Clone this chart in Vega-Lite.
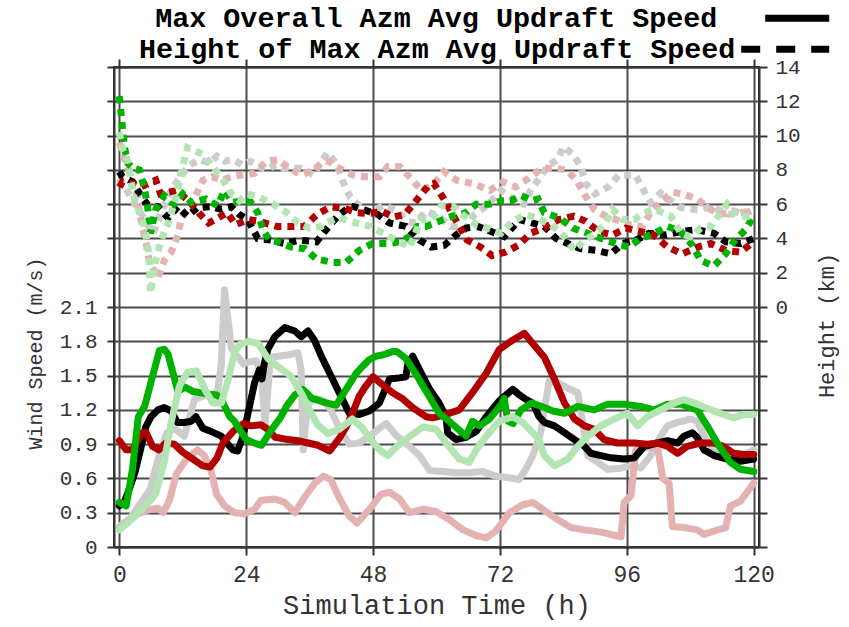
{
  "$schema": "https://vega.github.io/schema/vega-lite/v6.json",
  "width": 645,
  "height": 480,
  "autosize": {"type": "none"},
  "padding": {"left": 114, "top": 67, "right": 90, "bottom": 80},
  "background": "white",
  "config": {
    "view": {"stroke": "#333333", "strokeWidth": 2},
    "font": "Liberation Mono",
    "axis": {
      "labelFont": "Liberation Mono",
      "titleFont": "Liberation Mono",
      "labelColor": "#333333",
      "titleColor": "#333333",
      "titleFontWeight": "normal",
      "domainColor": "#333333",
      "domainWidth": 2,
      "tickColor": "#333333",
      "tickWidth": 2,
      "gridColor": "#4d4d4d",
      "gridWidth": 2,
      "gridOpacity": 1
    }
  },
  "datasets": {
    "speed": [
      {"run":"r1","hour":0,"speed":0.18},{"run":"r1","hour":2,"speed":0.25},{"run":"r1","hour":4,"speed":0.38},{"run":"r1","hour":5.8,"speed":0.5},{"run":"r1","hour":7.5,"speed":0.8},{"run":"r1","hour":9,"speed":1.0},{"run":"r1","hour":10.4,"speed":1.04},{"run":"r1","hour":12.3,"speed":0.97},{"run":"r1","hour":13.2,"speed":1.12},{"run":"r1","hour":14.2,"speed":1.29},{"run":"r1","hour":16.4,"speed":1.33},{"run":"r1","hour":18.5,"speed":1.34},{"run":"r1","hour":19.3,"speed":1.6},{"run":"r1","hour":19.9,"speed":2.25},{"run":"r1","hour":21.2,"speed":1.74},{"run":"r1","hour":22.5,"speed":1.66},{"run":"r1","hour":23.5,"speed":1.6},{"run":"r1","hour":24.5,"speed":1.62},{"run":"r1","hour":25.9,"speed":1.63},{"run":"r1","hour":26.8,"speed":1.52},{"run":"r1","hour":27.6,"speed":1.08},{"run":"r1","hour":28.6,"speed":1.66},{"run":"r1","hour":31.9,"speed":1.68},{"run":"r1","hour":33.8,"speed":1.7},{"run":"r1","hour":34.4,"speed":1.55},{"run":"r1","hour":34.8,"speed":0.85},{"run":"r1","hour":35.6,"speed":1.25},{"run":"r1","hour":37,"speed":1.3},{"run":"r1","hour":38.6,"speed":1.28},{"run":"r1","hour":40,"speed":1.2},{"run":"r1","hour":41.6,"speed":1.04},{"run":"r1","hour":43.5,"speed":0.9},{"run":"r1","hour":45.4,"speed":0.91},{"run":"r1","hour":47.3,"speed":0.97},{"run":"r1","hour":49.2,"speed":1.04},{"run":"r1","hour":50.5,"speed":1.08},{"run":"r1","hour":52.3,"speed":0.98},{"run":"r1","hour":54.9,"speed":0.88},{"run":"r1","hour":56.8,"speed":0.8},{"run":"r1","hour":58.7,"speed":0.67},{"run":"r1","hour":61.2,"speed":0.66},{"run":"r1","hour":63.7,"speed":0.65},{"run":"r1","hour":66.2,"speed":0.65},{"run":"r1","hour":68.7,"speed":0.66},{"run":"r1","hour":71.2,"speed":0.62},{"run":"r1","hour":73.1,"speed":0.61},{"run":"r1","hour":75.6,"speed":0.59},{"run":"r1","hour":76.9,"speed":0.68},{"run":"r1","hour":78.2,"speed":0.8},{"run":"r1","hour":79.7,"speed":1.0},{"run":"r1","hour":81.3,"speed":1.45},{"run":"r1","hour":82.9,"speed":1.44},{"run":"r1","hour":84.8,"speed":1.39},{"run":"r1","hour":86.7,"speed":1.35},{"run":"r1","hour":87.3,"speed":1.2},{"run":"r1","hour":88,"speed":0.97},{"run":"r1","hour":88.6,"speed":0.8},{"run":"r1","hour":90.5,"speed":0.74},{"run":"r1","hour":92.4,"speed":0.68},{"run":"r1","hour":94.9,"speed":0.69},{"run":"r1","hour":96.8,"speed":0.71},{"run":"r1","hour":98.6,"speed":0.69},{"run":"r1","hour":100.5,"speed":0.8},{"run":"r1","hour":102.4,"speed":0.97},{"run":"r1","hour":103.7,"speed":1.06},{"run":"r1","hour":105.6,"speed":1.09},{"run":"r1","hour":108.1,"speed":1.12},{"run":"r1","hour":109.3,"speed":1.1},{"run":"r1","hour":110.6,"speed":0.97},{"run":"r1","hour":111.9,"speed":0.88},{"run":"r1","hour":113.7,"speed":0.82},{"run":"r1","hour":116.2,"speed":0.78},{"run":"r1","hour":118.7,"speed":0.82},{"run":"r1","hour":120,"speed":0.85},
      {"run":"r2","hour":0,"speed":0.16},{"run":"r2","hour":1.6,"speed":0.22},{"run":"r2","hour":3.5,"speed":0.29},{"run":"r2","hour":5.2,"speed":0.32},{"run":"r2","hour":7.3,"speed":0.34},{"run":"r2","hour":8.3,"speed":0.3},{"run":"r2","hour":9.5,"speed":0.41},{"run":"r2","hour":10.8,"speed":0.64},{"run":"r2","hour":12.7,"speed":0.77},{"run":"r2","hour":14.8,"speed":0.85},{"run":"r2","hour":16.1,"speed":0.8},{"run":"r2","hour":17.4,"speed":0.66},{"run":"r2","hour":18.4,"speed":0.46},{"run":"r2","hour":19.9,"speed":0.36},{"run":"r2","hour":21.8,"speed":0.3},{"run":"r2","hour":23.7,"speed":0.29},{"run":"r2","hour":25.6,"speed":0.33},{"run":"r2","hour":26.8,"speed":0.41},{"run":"r2","hour":29.4,"speed":0.42},{"run":"r2","hour":31.3,"speed":0.39},{"run":"r2","hour":33.2,"speed":0.3},{"run":"r2","hour":35.1,"speed":0.44},{"run":"r2","hour":37,"speed":0.56},{"run":"r2","hour":38.6,"speed":0.62},{"run":"r2","hour":40,"speed":0.59},{"run":"r2","hour":41.6,"speed":0.43},{"run":"r2","hour":43.5,"speed":0.27},{"run":"r2","hour":45,"speed":0.21},{"run":"r2","hour":47.3,"speed":0.33},{"run":"r2","hour":49.5,"speed":0.46},{"run":"r2","hour":51.1,"speed":0.48},{"run":"r2","hour":53,"speed":0.42},{"run":"r2","hour":54.9,"speed":0.3},{"run":"r2","hour":57.4,"speed":0.33},{"run":"r2","hour":59.9,"speed":0.31},{"run":"r2","hour":62.4,"speed":0.24},{"run":"r2","hour":65,"speed":0.15},{"run":"r2","hour":67.5,"speed":0.1},{"run":"r2","hour":69.4,"speed":0.08},{"run":"r2","hour":71.2,"speed":0.14},{"run":"r2","hour":73.8,"speed":0.3},{"run":"r2","hour":76.3,"speed":0.37},{"run":"r2","hour":78.2,"speed":0.39},{"run":"r2","hour":80.4,"speed":0.32},{"run":"r2","hour":82.9,"speed":0.24},{"run":"r2","hour":85.4,"speed":0.17},{"run":"r2","hour":88,"speed":0.15},{"run":"r2","hour":91.1,"speed":0.13},{"run":"r2","hour":94.9,"speed":0.09},{"run":"r2","hour":95.5,"speed":0.39},{"run":"r2","hour":96.8,"speed":0.45},{"run":"r2","hour":97.7,"speed":0.85},{"run":"r2","hour":99.3,"speed":0.87},{"run":"r2","hour":101.8,"speed":0.88},{"run":"r2","hour":102.8,"speed":0.6},{"run":"r2","hour":104,"speed":0.56},{"run":"r2","hour":104.6,"speed":0.18},{"run":"r2","hour":106.8,"speed":0.17},{"run":"r2","hour":109.3,"speed":0.15},{"run":"r2","hour":110.6,"speed":0.11},{"run":"r2","hour":112.5,"speed":0.14},{"run":"r2","hour":114.7,"speed":0.17},{"run":"r2","hour":115.6,"speed":0.36},{"run":"r2","hour":117.5,"speed":0.4},{"run":"r2","hour":120,"speed":0.56},
      {"run":"r3","hour":0,"speed":0.36},{"run":"r3","hour":1,"speed":0.4},{"run":"r3","hour":2,"speed":0.52},{"run":"r3","hour":3,"speed":0.66},{"run":"r3","hour":4,"speed":0.85},{"run":"r3","hour":5,"speed":1.05},{"run":"r3","hour":6,"speed":1.14},{"run":"r3","hour":7.3,"speed":1.2},{"run":"r3","hour":8.5,"speed":1.22},{"run":"r3","hour":9.8,"speed":1.19},{"run":"r3","hour":11,"speed":1.09},{"run":"r3","hour":12.3,"speed":1.09},{"run":"r3","hour":13.6,"speed":1.1},{"run":"r3","hour":14.5,"speed":1.14},{"run":"r3","hour":15.8,"speed":1.04},{"run":"r3","hour":17.4,"speed":1.01},{"run":"r3","hour":19.3,"speed":0.97},{"run":"r3","hour":20.5,"speed":0.9},{"run":"r3","hour":21.5,"speed":0.85},{"run":"r3","hour":22.4,"speed":0.84},{"run":"r3","hour":23.4,"speed":0.97},{"run":"r3","hour":24.3,"speed":1.16},{"run":"r3","hour":25.6,"speed":1.44},{"run":"r3","hour":26.5,"speed":1.55},{"run":"r3","hour":27,"speed":1.47},{"run":"r3","hour":27.4,"speed":1.6},{"run":"r3","hour":28.1,"speed":1.73},{"run":"r3","hour":29.4,"speed":1.84},{"run":"r3","hour":31.3,"speed":1.92},{"run":"r3","hour":33.2,"speed":1.89},{"run":"r3","hour":34.4,"speed":1.84},{"run":"r3","hour":35.7,"speed":1.89},{"run":"r3","hour":36.9,"speed":1.81},{"run":"r3","hour":38.2,"speed":1.67},{"run":"r3","hour":39.8,"speed":1.52},{"run":"r3","hour":41.6,"speed":1.35},{"run":"r3","hour":43.5,"speed":1.17},{"run":"r3","hour":45.4,"speed":1.16},{"run":"r3","hour":47.3,"speed":1.19},{"run":"r3","hour":49.2,"speed":1.26},{"run":"r3","hour":51.1,"speed":1.47},{"run":"r3","hour":53,"speed":1.48},{"run":"r3","hour":54.2,"speed":1.49},{"run":"r3","hour":54.6,"speed":1.61},{"run":"r3","hour":55.5,"speed":1.67},{"run":"r3","hour":56.8,"speed":1.55},{"run":"r3","hour":58.7,"speed":1.38},{"run":"r3","hour":60.5,"speed":1.26},{"run":"r3","hour":61.8,"speed":1.14},{"run":"r3","hour":62.1,"speed":1.0},{"run":"r3","hour":63.7,"speed":0.94},{"run":"r3","hour":65.6,"speed":0.96},{"run":"r3","hour":67.5,"speed":1.01},{"run":"r3","hour":69.4,"speed":1.14},{"run":"r3","hour":71.9,"speed":1.28},{"run":"r3","hour":74.4,"speed":1.38},{"run":"r3","hour":75.7,"speed":1.33},{"run":"r3","hour":77,"speed":1.29},{"run":"r3","hour":78.2,"speed":1.26},{"run":"r3","hour":79.4,"speed":1.14},{"run":"r3","hour":80.4,"speed":1.09},{"run":"r3","hour":82.3,"speed":1.06},{"run":"r3","hour":84.2,"speed":1.0},{"run":"r3","hour":86.1,"speed":0.94},{"run":"r3","hour":88,"speed":0.88},{"run":"r3","hour":89.2,"speed":0.82},{"run":"r3","hour":91.1,"speed":0.8},{"run":"r3","hour":93,"speed":0.78},{"run":"r3","hour":95.5,"speed":0.77},{"run":"r3","hour":97.4,"speed":0.78},{"run":"r3","hour":99.3,"speed":0.88},{"run":"r3","hour":101.8,"speed":0.91},{"run":"r3","hour":103.7,"speed":0.93},{"run":"r3","hour":105.6,"speed":0.91},{"run":"r3","hour":106.8,"speed":0.97},{"run":"r3","hour":108.4,"speed":1.0},{"run":"r3","hour":109.3,"speed":0.96},{"run":"r3","hour":110.6,"speed":0.85},{"run":"r3","hour":112.5,"speed":0.8},{"run":"r3","hour":115,"speed":0.77},{"run":"r3","hour":117.5,"speed":0.75},{"run":"r3","hour":120,"speed":0.77},
      {"run":"r4","hour":0,"speed":0.93},{"run":"r4","hour":1.3,"speed":0.85},{"run":"r4","hour":2.5,"speed":0.85},{"run":"r4","hour":4.3,"speed":1.0},{"run":"r4","hour":5.1,"speed":1.0},{"run":"r4","hour":6.3,"speed":0.88},{"run":"r4","hour":7.5,"speed":0.85},{"run":"r4","hour":8.8,"speed":0.91},{"run":"r4","hour":10.4,"speed":0.9},{"run":"r4","hour":12,"speed":0.83},{"run":"r4","hour":13.9,"speed":0.77},{"run":"r4","hour":15.8,"speed":0.71},{"run":"r4","hour":17.2,"speed":0.7},{"run":"r4","hour":18.5,"speed":0.78},{"run":"r4","hour":19.6,"speed":0.91},{"run":"r4","hour":21.5,"speed":1.01},{"run":"r4","hour":23.5,"speed":1.08},{"run":"r4","hour":24.9,"speed":1.06},{"run":"r4","hour":26.8,"speed":1.07},{"run":"r4","hour":28.1,"speed":1.03},{"run":"r4","hour":29.5,"speed":0.96},{"run":"r4","hour":31.9,"speed":0.94},{"run":"r4","hour":33.8,"speed":0.93},{"run":"r4","hour":35.7,"speed":0.91},{"run":"r4","hour":37.6,"speed":0.89},{"run":"r4","hour":39.8,"speed":0.84},{"run":"r4","hour":41.6,"speed":0.95},{"run":"r4","hour":42.9,"speed":1.05},{"run":"r4","hour":44.1,"speed":1.17},{"run":"r4","hour":45.4,"speed":1.32},{"run":"r4","hour":46.5,"speed":1.4},{"run":"r4","hour":48,"speed":1.49},{"run":"r4","hour":49.8,"speed":1.42},{"run":"r4","hour":51.7,"speed":1.35},{"run":"r4","hour":53.5,"speed":1.3},{"run":"r4","hour":55.5,"speed":1.22},{"run":"r4","hour":58,"speed":1.14},{"run":"r4","hour":59.3,"speed":1.13},{"run":"r4","hour":61.8,"speed":1.16},{"run":"r4","hour":64.3,"speed":1.2},{"run":"r4","hour":66.8,"speed":1.35},{"run":"r4","hour":69.4,"speed":1.52},{"run":"r4","hour":71.9,"speed":1.73},{"run":"r4","hour":74.4,"speed":1.81},{"run":"r4","hour":76.6,"speed":1.87},{"run":"r4","hour":78.2,"speed":1.78},{"run":"r4","hour":80.4,"speed":1.66},{"run":"r4","hour":82.3,"speed":1.47},{"run":"r4","hour":84.2,"speed":1.26},{"run":"r4","hour":86.1,"speed":1.12},{"run":"r4","hour":88,"speed":1.06},{"run":"r4","hour":89.8,"speed":1.03},{"run":"r4","hour":91.7,"speed":0.94},{"run":"r4","hour":94.2,"speed":0.91},{"run":"r4","hour":97.4,"speed":0.91},{"run":"r4","hour":99.9,"speed":0.9},{"run":"r4","hour":101.8,"speed":0.91},{"run":"r4","hour":103.7,"speed":0.88},{"run":"r4","hour":105.6,"speed":0.82},{"run":"r4","hour":107.4,"speed":0.88},{"run":"r4","hour":109.9,"speed":0.91},{"run":"r4","hour":112.5,"speed":0.91},{"run":"r4","hour":114.3,"speed":0.88},{"run":"r4","hour":116.2,"speed":0.82},{"run":"r4","hour":118.1,"speed":0.81},{"run":"r4","hour":120,"speed":0.81},
      {"run":"r5","hour":0,"speed":0.39},{"run":"r5","hour":1.3,"speed":0.36},{"run":"r5","hour":2.5,"speed":0.68},{"run":"r5","hour":3.6,"speed":1.14},{"run":"r5","hour":4.8,"speed":1.23},{"run":"r5","hour":6.1,"speed":1.46},{"run":"r5","hour":7.6,"speed":1.72},{"run":"r5","hour":8.5,"speed":1.73},{"run":"r5","hour":9.2,"speed":1.69},{"run":"r5","hour":11.1,"speed":1.36},{"run":"r5","hour":12.4,"speed":1.4},{"run":"r5","hour":14,"speed":1.36},{"run":"r5","hour":16.5,"speed":1.34},{"run":"r5","hour":18.4,"speed":1.33},{"run":"r5","hour":19.3,"speed":1.29},{"run":"r5","hour":20.9,"speed":1.14},{"run":"r5","hour":21.8,"speed":1.1},{"run":"r5","hour":24,"speed":0.94},{"run":"r5","hour":25.5,"speed":0.91},{"run":"r5","hour":26.9,"speed":0.89},{"run":"r5","hour":28.7,"speed":1.02},{"run":"r5","hour":30.6,"speed":1.14},{"run":"r5","hour":31.6,"speed":1.23},{"run":"r5","hour":33.2,"speed":1.33},{"run":"r5","hour":34.7,"speed":1.38},{"run":"r5","hour":36.5,"speed":1.3},{"run":"r5","hour":38.5,"speed":1.27},{"run":"r5","hour":41,"speed":1.24},{"run":"r5","hour":42.9,"speed":1.38},{"run":"r5","hour":44.8,"speed":1.52},{"run":"r5","hour":46,"speed":1.58},{"run":"r5","hour":47.3,"speed":1.64},{"run":"r5","hour":48.6,"speed":1.67},{"run":"r5","hour":49.8,"speed":1.68},{"run":"r5","hour":51.7,"speed":1.71},{"run":"r5","hour":52.5,"speed":1.71},{"run":"r5","hour":54.2,"speed":1.65},{"run":"r5","hour":56.4,"speed":1.49},{"run":"r5","hour":58.6,"speed":1.32},{"run":"r5","hour":60.5,"speed":1.17},{"run":"r5","hour":62.4,"speed":1.1},{"run":"r5","hour":65.6,"speed":0.97},{"run":"r5","hour":66.8,"speed":1.1},{"run":"r5","hour":68.1,"speed":1.06},{"run":"r5","hour":70,"speed":1.12},{"run":"r5","hour":72.3,"speed":1.25},{"run":"r5","hour":72.8,"speed":1.3},{"run":"r5","hour":73.5,"speed":1.1},{"run":"r5","hour":74.5,"speed":1.08},{"run":"r5","hour":76,"speed":1.2},{"run":"r5","hour":78,"speed":1.26},{"run":"r5","hour":80.4,"speed":1.22},{"run":"r5","hour":82,"speed":1.19},{"run":"r5","hour":84.2,"speed":1.17},{"run":"r5","hour":86.7,"speed":1.23},{"run":"r5","hour":89.8,"speed":1.2},{"run":"r5","hour":92.4,"speed":1.25},{"run":"r5","hour":95.5,"speed":1.25},{"run":"r5","hour":98.6,"speed":1.23},{"run":"r5","hour":101.2,"speed":1.2},{"run":"r5","hour":103.7,"speed":1.25},{"run":"r5","hour":106.2,"speed":1.25},{"run":"r5","hour":109.3,"speed":1.2},{"run":"r5","hour":111.2,"speed":1.06},{"run":"r5","hour":113.1,"speed":0.91},{"run":"r5","hour":115.6,"speed":0.74},{"run":"r5","hour":117.5,"speed":0.68},{"run":"r5","hour":120,"speed":0.66},
      {"run":"r6","hour":0,"speed":0.15},{"run":"r6","hour":1.6,"speed":0.21},{"run":"r6","hour":3.4,"speed":0.29},{"run":"r6","hour":5.4,"speed":0.38},{"run":"r6","hour":6.9,"speed":0.47},{"run":"r6","hour":8.5,"speed":0.74},{"run":"r6","hour":9.8,"speed":1.09},{"run":"r6","hour":11.4,"speed":1.41},{"run":"r6","hour":12.9,"speed":1.53},{"run":"r6","hour":14.6,"speed":1.54},{"run":"r6","hour":16.3,"speed":1.37},{"run":"r6","hour":17.7,"speed":1.26},{"run":"r6","hour":19.3,"speed":1.26},{"run":"r6","hour":20.5,"speed":1.45},{"run":"r6","hour":21.8,"speed":1.7},{"run":"r6","hour":22.7,"speed":1.77},{"run":"r6","hour":24.5,"speed":1.8},{"run":"r6","hour":26.3,"speed":1.78},{"run":"r6","hour":28.1,"speed":1.65},{"run":"r6","hour":30.5,"speed":1.56},{"run":"r6","hour":32.4,"speed":1.5},{"run":"r6","hour":34.5,"speed":1.34},{"run":"r6","hour":36.3,"speed":1.17},{"run":"r6","hour":37.5,"speed":1.07},{"run":"r6","hour":39.5,"speed":0.99},{"run":"r6","hour":41.6,"speed":1.03},{"run":"r6","hour":44.1,"speed":1.12},{"run":"r6","hour":46,"speed":1.04},{"run":"r6","hour":47.9,"speed":0.92},{"run":"r6","hour":49.5,"speed":0.84},{"run":"r6","hour":50.8,"speed":0.8},{"run":"r6","hour":52.5,"speed":0.88},{"run":"r6","hour":55,"speed":0.97},{"run":"r6","hour":57.4,"speed":1.05},{"run":"r6","hour":59.9,"speed":1.03},{"run":"r6","hour":61.8,"speed":0.91},{"run":"r6","hour":64.3,"speed":0.77},{"run":"r6","hour":66.2,"speed":0.74},{"run":"r6","hour":67.5,"speed":0.85},{"run":"r6","hour":69.4,"speed":0.97},{"run":"r6","hour":71.9,"speed":1.1},{"run":"r6","hour":74.4,"speed":1.14},{"run":"r6","hour":76.3,"speed":1.09},{"run":"r6","hour":78.2,"speed":1.0},{"run":"r6","hour":79.4,"speed":0.94},{"run":"r6","hour":80.4,"speed":0.8},{"run":"r6","hour":82.3,"speed":0.71},{"run":"r6","hour":84.8,"speed":0.77},{"run":"r6","hour":86.7,"speed":0.88},{"run":"r6","hour":88.6,"speed":0.97},{"run":"r6","hour":91.1,"speed":1.06},{"run":"r6","hour":93.6,"speed":1.12},{"run":"r6","hour":96.1,"speed":1.17},{"run":"r6","hour":98,"speed":1.06},{"run":"r6","hour":99.9,"speed":1.14},{"run":"r6","hour":102.4,"speed":1.2},{"run":"r6","hour":105,"speed":1.26},{"run":"r6","hour":106.8,"speed":1.29},{"run":"r6","hour":109.3,"speed":1.25},{"run":"r6","hour":111.9,"speed":1.2},{"run":"r6","hour":114.3,"speed":1.16},{"run":"r6","hour":116.2,"speed":1.13},{"run":"r6","hour":118.1,"speed":1.16},{"run":"r6","hour":120,"speed":1.16}
    ],
    "height": [
      {"run":"r1","hour":0,"height":7.5},{"run":"r1","hour":2,"height":6.5},{"run":"r1","hour":4,"height":5.5},{"run":"r1","hour":6.4,"height":4.3},{"run":"r1","hour":8.1,"height":5.65},{"run":"r1","hour":9.8,"height":6.8},{"run":"r1","hour":11.5,"height":7.6},{"run":"r1","hour":13.4,"height":8.3},{"run":"r1","hour":15.3,"height":8.6},{"run":"r1","hour":17,"height":8.4},{"run":"r1","hour":18.5,"height":8.8},{"run":"r1","hour":20,"height":8.5},{"run":"r1","hour":21.6,"height":8.6},{"run":"r1","hour":23.2,"height":8.3},{"run":"r1","hour":24.8,"height":8.5},{"run":"r1","hour":26.4,"height":8.2},{"run":"r1","hour":28,"height":8.0},{"run":"r1","hour":29.5,"height":8.3},{"run":"r1","hour":31,"height":8.1},{"run":"r1","hour":32.7,"height":8.1},{"run":"r1","hour":34.3,"height":8.1},{"run":"r1","hour":36.7,"height":7.7},{"run":"r1","hour":38.2,"height":8.5},{"run":"r1","hour":39.4,"height":9.0},{"run":"r1","hour":41.2,"height":8.3},{"run":"r1","hour":42.3,"height":7.3},{"run":"r1","hour":43.7,"height":6.4},{"run":"r1","hour":45.6,"height":5.85},{"run":"r1","hour":47.6,"height":5.5},{"run":"r1","hour":50,"height":5.95},{"run":"r1","hour":52.5,"height":5.6},{"run":"r1","hour":54.5,"height":5.0},{"run":"r1","hour":56.1,"height":4.9},{"run":"r1","hour":58,"height":5.6},{"run":"r1","hour":60.3,"height":5.3},{"run":"r1","hour":62.7,"height":4.7},{"run":"r1","hour":65.6,"height":4.6},{"run":"r1","hour":67.2,"height":5.4},{"run":"r1","hour":69.5,"height":5.9},{"run":"r1","hour":72.2,"height":6.8},{"run":"r1","hour":74.5,"height":6.3},{"run":"r1","hour":76.5,"height":6.0},{"run":"r1","hour":77.8,"height":6.8},{"run":"r1","hour":79.2,"height":7.4},{"run":"r1","hour":81,"height":8.2},{"run":"r1","hour":82.9,"height":8.6},{"run":"r1","hour":84,"height":9.35},{"run":"r1","hour":85.8,"height":8.9},{"run":"r1","hour":87.3,"height":8.2},{"run":"r1","hour":88.2,"height":7.2},{"run":"r1","hour":90,"height":6.6},{"run":"r1","hour":92.5,"height":7.0},{"run":"r1","hour":94.5,"height":7.7},{"run":"r1","hour":97.6,"height":7.7},{"run":"r1","hour":99.2,"height":6.8},{"run":"r1","hour":100.5,"height":6.1},{"run":"r1","hour":102.4,"height":6.65},{"run":"r1","hour":104.3,"height":6.2},{"run":"r1","hour":106.2,"height":5.8},{"run":"r1","hour":109.4,"height":5.65},{"run":"r1","hour":111.9,"height":5.85},{"run":"r1","hour":115.3,"height":5.4},{"run":"r1","hour":117.5,"height":5.5},{"run":"r1","hour":120,"height":5.65},
      {"run":"r2","hour":0,"height":9.6},{"run":"r2","hour":0.8,"height":8.8},{"run":"r2","hour":2,"height":7.8},{"run":"r2","hour":3.2,"height":6.8},{"run":"r2","hour":3.8,"height":5.6},{"run":"r2","hour":4.4,"height":4.6},{"run":"r2","hour":5.1,"height":3.7},{"run":"r2","hour":5.7,"height":2.6},{"run":"r2","hour":7.3,"height":1.7},{"run":"r2","hour":8.5,"height":2.7},{"run":"r2","hour":9.8,"height":3.2},{"run":"r2","hour":11.1,"height":4.2},{"run":"r2","hour":11.7,"height":5.1},{"run":"r2","hour":12.9,"height":5.8},{"run":"r2","hour":13.9,"height":6.1},{"run":"r2","hour":15.8,"height":7.4},{"run":"r2","hour":17.5,"height":7.6},{"run":"r2","hour":19.5,"height":7.4},{"run":"r2","hour":21.2,"height":7.6},{"run":"r2","hour":23.1,"height":7.7},{"run":"r2","hour":25.6,"height":7.8},{"run":"r2","hour":27.8,"height":8.5},{"run":"r2","hour":30,"height":8.6},{"run":"r2","hour":32.2,"height":8.1},{"run":"r2","hour":34.4,"height":7.7},{"run":"r2","hour":36.9,"height":8.0},{"run":"r2","hour":38.5,"height":8.5},{"run":"r2","hour":39.6,"height":8.5},{"run":"r2","hour":41.6,"height":8.1},{"run":"r2","hour":44.2,"height":7.7},{"run":"r2","hour":46.4,"height":7.6},{"run":"r2","hour":49.2,"height":7.6},{"run":"r2","hour":50.8,"height":8.2},{"run":"r2","hour":53,"height":8.2},{"run":"r2","hour":55.2,"height":7.5},{"run":"r2","hour":57.1,"height":6.8},{"run":"r2","hour":59.3,"height":7.1},{"run":"r2","hour":61.4,"height":7.9},{"run":"r2","hour":63.8,"height":7.4},{"run":"r2","hour":67,"height":7.2},{"run":"r2","hour":70.1,"height":6.8},{"run":"r2","hour":72.6,"height":7.3},{"run":"r2","hour":75,"height":7.0},{"run":"r2","hour":77.4,"height":7.5},{"run":"r2","hour":80,"height":8.1},{"run":"r2","hour":82,"height":8.1},{"run":"r2","hour":84.6,"height":8.0},{"run":"r2","hour":86.6,"height":7.35},{"run":"r2","hour":88.1,"height":6.5},{"run":"r2","hour":89.8,"height":5.7},{"run":"r2","hour":92,"height":5.3},{"run":"r2","hour":93.9,"height":5.1},{"run":"r2","hour":96.5,"height":4.8},{"run":"r2","hour":98.9,"height":4.7},{"run":"r2","hour":100.5,"height":5.5},{"run":"r2","hour":102.7,"height":6.2},{"run":"r2","hour":104.6,"height":6.7},{"run":"r2","hour":106.5,"height":6.6},{"run":"r2","hour":109.3,"height":6.3},{"run":"r2","hour":111.5,"height":5.75},{"run":"r2","hour":113.7,"height":5.4},{"run":"r2","hour":116.2,"height":5.6},{"run":"r2","hour":118.1,"height":5.4},{"run":"r2","hour":120,"height":5.7},
      {"run":"r3","hour":0,"height":7.9},{"run":"r3","hour":0.6,"height":7.6},{"run":"r3","hour":2.5,"height":7.3},{"run":"r3","hour":4.1,"height":6.5},{"run":"r3","hour":5.4,"height":5.95},{"run":"r3","hour":7.3,"height":5.85},{"run":"r3","hour":9.2,"height":5.2},{"run":"r3","hour":11.1,"height":5.85},{"run":"r3","hour":12.9,"height":5.3},{"run":"r3","hour":14.8,"height":5.8},{"run":"r3","hour":17.4,"height":5.85},{"run":"r3","hour":19.3,"height":5.7},{"run":"r3","hour":21.2,"height":5.85},{"run":"r3","hour":22.7,"height":5.4},{"run":"r3","hour":24.3,"height":5.1},{"run":"r3","hour":26.2,"height":4.0},{"run":"r3","hour":28.7,"height":3.9},{"run":"r3","hour":31.3,"height":3.7},{"run":"r3","hour":34.1,"height":3.9},{"run":"r3","hour":37.3,"height":3.8},{"run":"r3","hour":39.1,"height":4.5},{"run":"r3","hour":41.3,"height":5.3},{"run":"r3","hour":43.8,"height":5.9},{"run":"r3","hour":46,"height":5.7},{"run":"r3","hour":48.9,"height":5.4},{"run":"r3","hour":51.1,"height":4.9},{"run":"r3","hour":54.2,"height":4.7},{"run":"r3","hour":56.8,"height":3.9},{"run":"r3","hour":59,"height":3.5},{"run":"r3","hour":61.5,"height":3.6},{"run":"r3","hour":63.7,"height":4.2},{"run":"r3","hour":65.6,"height":4.6},{"run":"r3","hour":67.8,"height":4.7},{"run":"r3","hour":70.3,"height":4.4},{"run":"r3","hour":72.8,"height":4.1},{"run":"r3","hour":75.7,"height":5.1},{"run":"r3","hour":78.2,"height":4.9},{"run":"r3","hour":80.4,"height":4.7},{"run":"r3","hour":82.6,"height":4.0},{"run":"r3","hour":84.8,"height":3.7},{"run":"r3","hour":87.3,"height":3.4},{"run":"r3","hour":90.2,"height":3.3},{"run":"r3","hour":93,"height":3.1},{"run":"r3","hour":95.2,"height":3.7},{"run":"r3","hour":97.7,"height":3.9},{"run":"r3","hour":100.2,"height":4.3},{"run":"r3","hour":103.4,"height":4.2},{"run":"r3","hour":106.2,"height":4.4},{"run":"r3","hour":109.3,"height":4.5},{"run":"r3","hour":112.5,"height":4.3},{"run":"r3","hour":114.7,"height":3.8},{"run":"r3","hour":117.5,"height":3.7},{"run":"r3","hour":120,"height":4.0},
      {"run":"r4","hour":0,"height":7.0},{"run":"r4","hour":0.6,"height":7.3},{"run":"r4","hour":2.5,"height":7.2},{"run":"r4","hour":4,"height":7.0},{"run":"r4","hour":6.9,"height":7.4},{"run":"r4","hour":7.8,"height":6.6},{"run":"r4","hour":10.9,"height":6.8},{"run":"r4","hour":13.4,"height":6.1},{"run":"r4","hour":15,"height":5.5},{"run":"r4","hour":16.9,"height":4.9},{"run":"r4","hour":18.7,"height":5.2},{"run":"r4","hour":20.4,"height":5.5},{"run":"r4","hour":22,"height":4.8},{"run":"r4","hour":24.4,"height":5.1},{"run":"r4","hour":26.5,"height":5.0},{"run":"r4","hour":29.8,"height":4.7},{"run":"r4","hour":32.3,"height":4.7},{"run":"r4","hour":35,"height":4.7},{"run":"r4","hour":37.4,"height":5.4},{"run":"r4","hour":40,"height":5.85},{"run":"r4","hour":42.6,"height":5.75},{"run":"r4","hour":45.1,"height":5.5},{"run":"r4","hour":47.5,"height":5.45},{"run":"r4","hour":49.6,"height":5.6},{"run":"r4","hour":51.8,"height":5.25},{"run":"r4","hour":54,"height":5.4},{"run":"r4","hour":55.9,"height":6.1},{"run":"r4","hour":58.5,"height":7.1},{"run":"r4","hour":59.5,"height":7.2},{"run":"r4","hour":61.2,"height":6.4},{"run":"r4","hour":62.6,"height":5.65},{"run":"r4","hour":65.8,"height":3.9},{"run":"r4","hour":68.3,"height":3.5},{"run":"r4","hour":70.5,"height":3.0},{"run":"r4","hour":73,"height":3.2},{"run":"r4","hour":75.5,"height":3.6},{"run":"r4","hour":77.8,"height":4.3},{"run":"r4","hour":80.3,"height":4.6},{"run":"r4","hour":83.1,"height":5.1},{"run":"r4","hour":86,"height":5.3},{"run":"r4","hour":88.2,"height":5.0},{"run":"r4","hour":90.7,"height":4.4},{"run":"r4","hour":93.3,"height":4.2},{"run":"r4","hour":95.8,"height":4.6},{"run":"r4","hour":98.5,"height":4.4},{"run":"r4","hour":101.1,"height":4.2},{"run":"r4","hour":103.7,"height":3.5},{"run":"r4","hour":106.5,"height":3.1},{"run":"r4","hour":109.4,"height":3.5},{"run":"r4","hour":111.9,"height":3.7},{"run":"r4","hour":114.7,"height":3.3},{"run":"r4","hour":117.5,"height":3.2},{"run":"r4","hour":120,"height":3.8},
      {"run":"r5","hour":0,"height":12.3},{"run":"r5","hour":0.4,"height":11.1},{"run":"r5","hour":0.7,"height":10.1},{"run":"r5","hour":1,"height":9.3},{"run":"r5","hour":1.6,"height":8.4},{"run":"r5","hour":2.5,"height":8.1},{"run":"r5","hour":3.8,"height":8.0},{"run":"r5","hour":4.7,"height":7.0},{"run":"r5","hour":5.3,"height":6.0},{"run":"r5","hour":5.9,"height":4.3},{"run":"r5","hour":6.9,"height":5.7},{"run":"r5","hour":8.5,"height":6.5},{"run":"r5","hour":10.4,"height":6.0},{"run":"r5","hour":12,"height":6.6},{"run":"r5","hour":13.6,"height":6.1},{"run":"r5","hour":16.4,"height":6.3},{"run":"r5","hour":18.6,"height":5.9},{"run":"r5","hour":19.9,"height":6.8},{"run":"r5","hour":21.5,"height":6.1},{"run":"r5","hour":23.1,"height":6.2},{"run":"r5","hour":24.9,"height":6.1},{"run":"r5","hour":26.2,"height":5.5},{"run":"r5","hour":27.2,"height":4.5},{"run":"r5","hour":28.4,"height":3.9},{"run":"r5","hour":30,"height":3.8},{"run":"r5","hour":32.5,"height":3.5},{"run":"r5","hour":35.1,"height":3.4},{"run":"r5","hour":37.3,"height":2.8},{"run":"r5","hour":40.4,"height":2.6},{"run":"r5","hour":42.9,"height":2.6},{"run":"r5","hour":45.4,"height":3.3},{"run":"r5","hour":47.9,"height":3.7},{"run":"r5","hour":50.8,"height":3.7},{"run":"r5","hour":53,"height":3.8},{"run":"r5","hour":54.9,"height":4.1},{"run":"r5","hour":56.4,"height":4.7},{"run":"r5","hour":58,"height":4.7},{"run":"r5","hour":60.5,"height":5.0},{"run":"r5","hour":63,"height":5.3},{"run":"r5","hour":65.6,"height":5.5},{"run":"r5","hour":67.5,"height":6.0},{"run":"r5","hour":70,"height":6.0},{"run":"r5","hour":72.5,"height":6.2},{"run":"r5","hour":74.1,"height":6.2},{"run":"r5","hour":76,"height":6.5},{"run":"r5","hour":78.2,"height":6.2},{"run":"r5","hour":79.2,"height":6.3},{"run":"r5","hour":80.4,"height":5.5},{"run":"r5","hour":83.2,"height":5.2},{"run":"r5","hour":85.8,"height":4.6},{"run":"r5","hour":88.6,"height":4.3},{"run":"r5","hour":91.1,"height":4.0},{"run":"r5","hour":93.9,"height":3.7},{"run":"r5","hour":96.4,"height":3.5},{"run":"r5","hour":98.6,"height":4.0},{"run":"r5","hour":101.2,"height":4.3},{"run":"r5","hour":103.7,"height":4.7},{"run":"r5","hour":106.2,"height":4.4},{"run":"r5","hour":108.4,"height":3.6},{"run":"r5","hour":110,"height":2.7},{"run":"r5","hour":112.5,"height":2.4},{"run":"r5","hour":114.7,"height":3.1},{"run":"r5","hour":116.2,"height":3.8},{"run":"r5","hour":118.4,"height":4.5},{"run":"r5","hour":120,"height":5.3},
      {"run":"r6","hour":0,"height":10.2},{"run":"r6","hour":0.6,"height":9.2},{"run":"r6","hour":1.5,"height":8.6},{"run":"r6","hour":2.8,"height":6.4},{"run":"r6","hour":3.8,"height":5.5},{"run":"r6","hour":4.7,"height":4.7},{"run":"r6","hour":5.1,"height":4.1},{"run":"r6","hour":5.4,"height":3.5},{"run":"r6","hour":5.7,"height":2.6},{"run":"r6","hour":5.9,"height":0.8},{"run":"r6","hour":6.9,"height":2.7},{"run":"r6","hour":7.9,"height":3.9},{"run":"r6","hour":9.5,"height":5.1},{"run":"r6","hour":10.7,"height":6.4},{"run":"r6","hour":12,"height":8.2},{"run":"r6","hour":12.9,"height":9.3},{"run":"r6","hour":15.8,"height":8.9},{"run":"r6","hour":17.7,"height":8.2},{"run":"r6","hour":19.6,"height":7.4},{"run":"r6","hour":21.2,"height":6.6},{"run":"r6","hour":22.7,"height":6.2},{"run":"r6","hour":24.3,"height":6.6},{"run":"r6","hour":26.5,"height":6.4},{"run":"r6","hour":29.1,"height":6.0},{"run":"r6","hour":31.3,"height":5.6},{"run":"r6","hour":33.8,"height":4.9},{"run":"r6","hour":36,"height":4.6},{"run":"r6","hour":38.2,"height":4.7},{"run":"r6","hour":39.1,"height":4.9},{"run":"r6","hour":41.6,"height":5.2},{"run":"r6","hour":44.8,"height":4.9},{"run":"r6","hour":47.6,"height":4.7},{"run":"r6","hour":50.5,"height":4.2},{"run":"r6","hour":53,"height":3.8},{"run":"r6","hour":54.9,"height":3.5},{"run":"r6","hour":57.1,"height":5.1},{"run":"r6","hour":59,"height":5.1},{"run":"r6","hour":60.9,"height":5.9},{"run":"r6","hour":63,"height":5.9},{"run":"r6","hour":65.3,"height":5.3},{"run":"r6","hour":67.5,"height":4.8},{"run":"r6","hour":69.7,"height":4.6},{"run":"r6","hour":72.2,"height":4.3},{"run":"r6","hour":74.4,"height":5.0},{"run":"r6","hour":76.9,"height":5.4},{"run":"r6","hour":78.8,"height":5.2},{"run":"r6","hour":81.7,"height":4.8},{"run":"r6","hour":84.2,"height":4.1},{"run":"r6","hour":86.1,"height":3.3},{"run":"r6","hour":88,"height":3.9},{"run":"r6","hour":90.2,"height":4.3},{"run":"r6","hour":92,"height":4.9},{"run":"r6","hour":93.3,"height":5.7},{"run":"r6","hour":95.2,"height":5.1},{"run":"r6","hour":97.4,"height":5.1},{"run":"r6","hour":99.3,"height":5.5},{"run":"r6","hour":101.2,"height":5.7},{"run":"r6","hour":104.3,"height":5.3},{"run":"r6","hour":106.2,"height":4.3},{"run":"r6","hour":108.1,"height":4.1},{"run":"r6","hour":110,"height":4.6},{"run":"r6","hour":111.8,"height":4.7},{"run":"r6","hour":115,"height":6.0},{"run":"r6","hour":116.9,"height":5.3},{"run":"r6","hour":119.1,"height":5.3},{"run":"r6","hour":120,"height":5.4}
    ]
  },
  "layer": [
    {
      "data": {"name": "speed"},
      "mark": {"type": "line", "strokeJoin": "round", "strokeCap": "round"},
      "encoding": {
        "x": {
          "field": "hour", "type": "quantitative",
          "scale": {"domain": [-1, 121], "nice": false, "zero": false},
          "axis": {
            "orient": "bottom", "values": [0, 24, 48, 72, 96, 120], "format": "d",
            "tickSize": 8, "labelFontSize": 23, "labelPadding": 8,
            "title": "Simulation Time (h)", "titleFontSize": 27, "titlePadding": 6,
            "grid": true
          }
        },
        "y": {
          "field": "speed", "type": "quantitative",
          "scale": {"domain": [0, 4.2], "nice": false, "zero": true},
          "axis": {
            "orient": "left",
            "values": [0, 0.3, 0.6, 0.9, 1.2, 1.5, 1.8, 2.1, 2.4, 2.7, 3.0, 3.3, 3.6, 3.9, 4.2],
            "format": ".1~f",
            "labelExpr": "datum.value <= 2.11 ? datum.label : ''",
            "tickSize": 7, "labelFontSize": 21, "labelPadding": 10,
            "title": "Wind Speed (m/s)", "titleFontSize": 20, "titlePadding": 14, "titleY": 286,
            "grid": true
          }
        },
        "color": {
          "field": "run", "type": "nominal",
          "scale": {"domain": ["r1", "r2", "r3", "r4", "r5", "r6"], "range": ["#cccccc", "#e5b2b2", "#000000", "#b20000", "#00b200", "#b2e5b2"]},
          "legend": null
        },
        "strokeWidth": {
          "datum": "Max Overall Azm Avg Updraft Speed",
          "type": "ordinal",
          "scale": {
            "domain": ["Max Overall Azm Avg Updraft Speed", "Height of Max Azm Avg Updraft Speed"],
            "range": [7, 7]
          },
          "legend": {
            "orient": "none", "legendX": 657, "legendY": -63, "direction": "vertical",
            "title": null, "padding": 0, "rowPadding": 2,
            "symbolType": "M-4.1905,0H4.1905", "symbolSize": 441, "symbolStrokeWidth": 7, "symbolStrokeColor": "#000000",
            "labelFont": "Liberation Mono", "labelFontWeight": "bold", "labelFontSize": 28.4, "labelColor": "#000000",
            "labelAlign": "right", "labelOffset": -64, "labelLimit": 2000,
            "encode": {
              "symbols": {"update": {
                "stroke": {"value": "#000000"},
                "strokeDash": [{"test": "datum.value === 'Height of Max Azm Avg Updraft Speed'", "value": [19, 16]}, {"value": [0, 24, 64, 100]}]
              }},
              "labels": {"update": {
                "dx": [{"test": "datum.value === 'Max Overall Azm Avg Updraft Speed'", "value": -18}, {"value": 0}]
              }}
            }
          }
        }
      }
    },
    {
      "data": {"name": "height"},
      "mark": {"type": "line", "strokeCap": "butt", "strokeJoin": "miter", "strokeDash": [7, 6]},
      "encoding": {
        "x": {
          "field": "hour", "type": "quantitative",
          "scale": {"domain": [-1, 121], "nice": false, "zero": false},
          "axis": {
            "orient": "top", "values": [0, 24, 48, 72, 96, 120],
            "labels": false, "tickSize": 8, "grid": false, "title": null
          }
        },
        "y": {
          "field": "height", "type": "quantitative",
          "scale": {"domain": [-14, 14], "nice": false, "zero": false},
          "axis": {
            "orient": "right",
            "values": [-14, -12, -10, -8, -6, -4, -2, 0, 2, 4, 6, 8, 10, 12, 14],
            "format": "d",
            "labelExpr": "datum.value >= 0 ? datum.label : ''",
            "tickSize": 8, "labelFontSize": 21, "labelPadding": 8,
            "title": "Height (km)", "titleFontSize": 22, "titleAngle": 270, "titleBaseline": "top",
            "titlePadding": 16, "titleY": 258,
            "grid": false
          }
        },
        "color": {"field": "run", "type": "nominal", "legend": null},
        "strokeWidth": {"datum": "Height of Max Azm Avg Updraft Speed", "type": "ordinal"}
      }
    }
  ],
  "resolve": {
    "scale": {"y": "independent"},
    "axis": {"x": "independent", "y": "independent"}
  }
}
